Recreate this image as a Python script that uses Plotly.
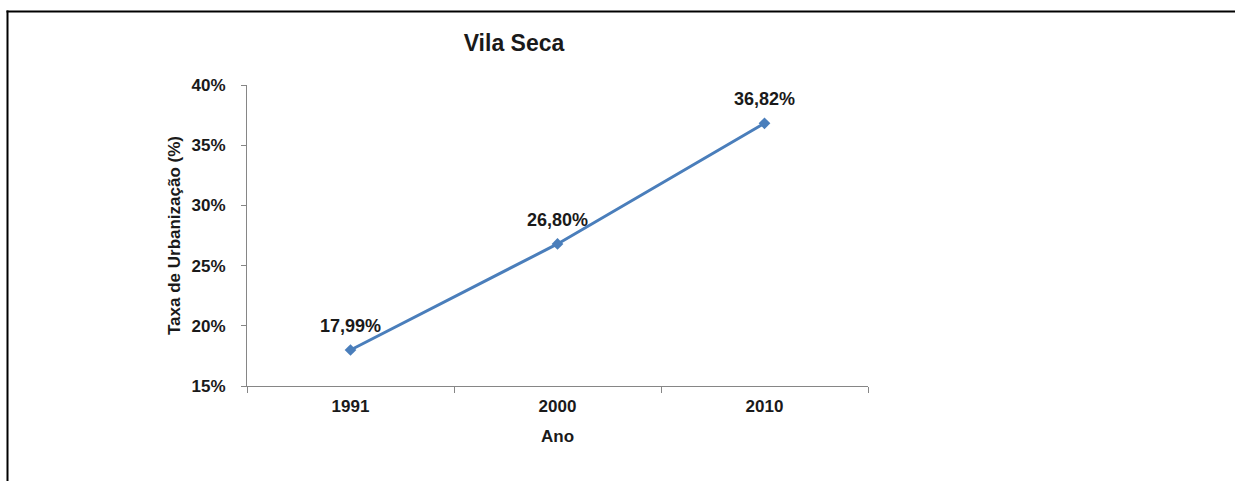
import plotly.graph_objects as go

# Data
anos = ["1991", "2000", "2010"]
taxa = [17.99, 26.80, 36.82]
y_ticks = [15, 20, 25, 30, 35, 40]

W, H = 1235, 481
L, R, T, B = 247, 1235 - 868, 85, 481 - 386
pw, ph = W - L - R, H - T - B

def px_x(px):
    return (px - L) / pw

def px_y(py):
    return (H - B - py) / ph

FONT = "Liberation Sans, Arial, sans-serif"
LINE_COLOR = "#4A7EBB"
AXIS_COLOR = "#868686"
TXT = "#1a1a1a"

fig = go.Figure()
fig.add_trace(go.Scatter(
    x=anos, y=taxa,
    mode="lines+markers",
    line=dict(color=LINE_COLOR, width=3),
    marker=dict(symbol="diamond", size=9, color=LINE_COLOR),
    cliponaxis=False,
    hoverinfo="skip",
))

for i, v in enumerate(taxa):
    fig.add_annotation(
        x=i, y=v, xref="x", yref="y",
        text="<b>" + f"{v:.2f}".replace(".", ",") + "%</b>",
        showarrow=False, yshift=24,
        xanchor="center", yanchor="middle",
        font=dict(family=FONT, size=18, color=TXT),
    )

fig.update_layout(
    width=W, height=H,
    margin=dict(l=L, r=R, t=T, b=B),
    paper_bgcolor="white", plot_bgcolor="white",
    showlegend=False,
    font=dict(family=FONT, color=TXT),
    title=dict(
        text="<b>Vila Seca</b>",
        x=px_x(514), xref="paper", xanchor="center",
        y=1 - 43 / H, yref="container", yanchor="middle",
        font=dict(family=FONT, size=23, color=TXT),
    ),
    xaxis=dict(
        type="category",
        range=[-0.5, 2.5],
        tickvals=anos,
        ticktext=["<b>%s</b>" % a for a in anos],
        showline=True, linecolor=AXIS_COLOR, linewidth=1,
        ticks="outside", tickson="boundaries", ticklen=6, tickcolor=AXIS_COLOR,
        showgrid=False, zeroline=False,
        tickfont=dict(family=FONT, size=17, color=TXT),
        ticklabelstandoff=5,
        title=dict(text="<b>Ano</b>", standoff=14,
                   font=dict(family=FONT, size=17, color=TXT)),
    ),
    yaxis=dict(
        range=[15, 40],
        tickvals=y_ticks,
        ticktext=["<b>%d%%</b>" % t for t in y_ticks],
        showline=True, linecolor=AXIS_COLOR, linewidth=1,
        ticks="outside", ticklen=5, tickcolor=AXIS_COLOR,
        showgrid=False, zeroline=False,
        tickfont=dict(family=FONT, size=17, color=TXT),
        ticklabelstandoff=12,
        title=dict(text="<b>Taxa de Urbanização (%)</b>", standoff=6,
                   font=dict(family=FONT, size=17, color=TXT)),
    ),
)

# Frame: top edge and left edge of the figure box, drawn as thin filled bars
fig.add_shape(type="rect", xref="paper", yref="paper",
              x0=px_x(6.5), x1=px_x(1235), y0=px_y(12.5), y1=px_y(10.5),
              fillcolor="black", line=dict(width=0), layer="above")
fig.add_shape(type="rect", xref="paper", yref="paper",
              x0=px_x(6.5), x1=px_x(8.5), y0=px_y(481), y1=px_y(10.5),
              fillcolor="black", line=dict(width=0), layer="above")

fig.write_html(
    "out.html",
    config={"displayModeBar": False},
    post_script="document.documentElement.style.overflow='hidden';"
                "document.body.style.overflow='hidden';"
                "document.body.style.margin='0';",
)
